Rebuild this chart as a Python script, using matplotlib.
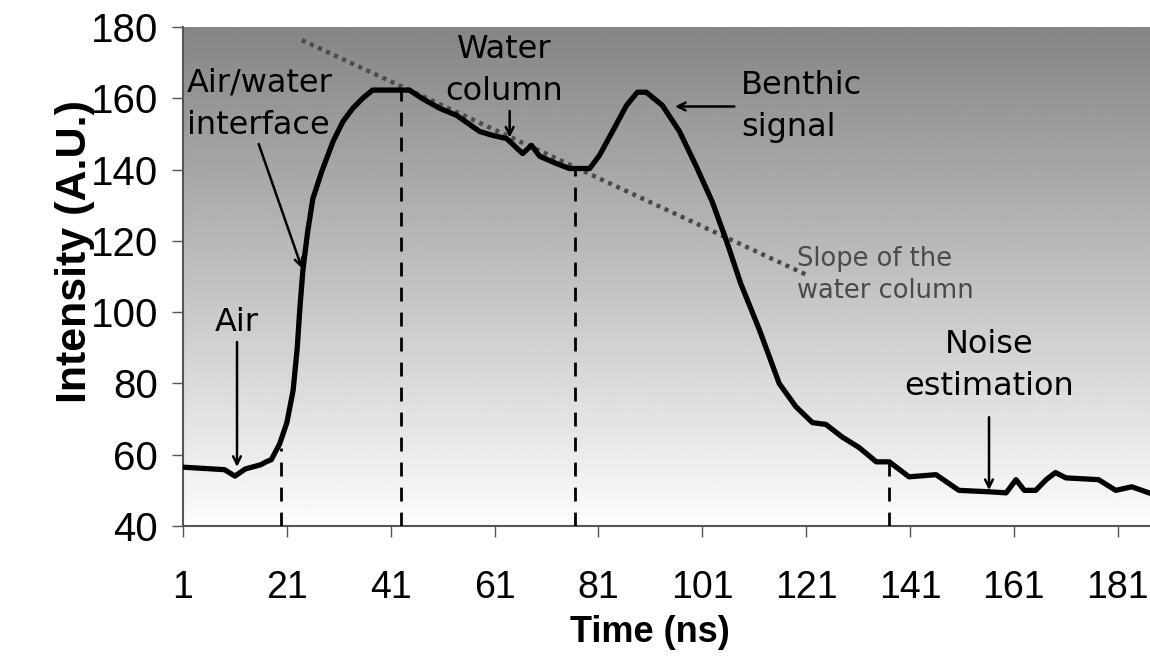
import numpy as np
import matplotlib
matplotlib.use("Agg")
import matplotlib.pyplot as plt

# waveform (time in ns, intensity in A.U.)
time_ns = [1, 9, 11, 13, 16, 17, 18, 19.6, 21, 22.2, 23, 23.5, 24.1, 25, 26, 27.7,
           29.9, 31.8, 33.7, 35.6, 37.5, 44.6, 47, 50.4, 53.7, 58.1, 60.6, 63.3,
           66.4, 68.1, 69.7, 72.9, 75.4, 79.3, 81.2, 83.7, 86.4, 88.5, 90.2, 93.3,
           96.6, 99.8, 102.9, 105.6, 108.4, 112, 115.8, 119, 122.2, 124.8, 127.9,
           131.2, 134.5, 137, 140.8, 146, 150.4, 156.2, 159.5, 161.4, 163, 165.2,
           167.2, 169, 171, 177.3, 180.6, 183.7, 187]
intensity = [56.5, 55.8, 54, 56, 57.2, 58, 58.6, 63, 69, 78, 90, 101, 112,
             122.5, 131.8, 139.4, 147.9, 153.5, 157.2, 160, 162.3, 162.3, 160,
             157.2, 155.2, 150.7, 149.6, 148.7, 144.5, 146.8, 143.7, 141.7, 140.3,
             140.3, 144, 150.7, 158, 161.7, 161.7, 158, 150.7, 141, 131, 120.2,
             108, 95, 80, 73.5, 69, 68.5, 65, 62, 58, 58, 53.8, 54.4, 50,
             49.6, 49.3, 53, 50, 50, 53, 55, 53.5, 53, 50, 51, 49.3]

# vertical dashed markers (position, height)
marker_x = [19.8, 42.9, 76.4, 137]
marker_top = [62, 162.3, 140.3, 58]

# dotted fit of the water column
slope_x = [23.9, 121.6]
slope_y = [176.3, 110.1]

xticks = [1, 21, 41, 61, 81, 101, 121, 141, 161, 181]
yticks = [40, 60, 80, 100, 120, 140, 160, 180]

fig = plt.figure(figsize=(11.5, 6.56), dpi=100)
ax = fig.add_axes([183 / 1150, 1 - 526 / 656, 967 / 1150, 499 / 656])

# grey-to-white gradient behind the plot
grad = np.linspace(0.99, 0.52, 256).reshape(-1, 1)
ax.imshow(grad, extent=[0, 1, 0, 1], transform=ax.transAxes, aspect="auto",
          cmap="gray", vmin=0, vmax=1, zorder=0, origin="lower")

ax.plot(time_ns, intensity, color="black", lw=3.8, solid_joinstyle="round", zorder=4)
ax.plot(slope_x, slope_y, color="#4a4a4a", lw=3.2, ls=(0, (0.9, 1.1)), zorder=3)
for mx, mt in zip(marker_x, marker_top):
    ax.plot([mx, mx], [40, mt], color="black", lw=2, ls=(0, (5, 4)), zorder=3)

ax.set_xlim(1, 187.2)
ax.set_ylim(40, 180)
ax.set_xticks(xticks)
ax.set_yticks(yticks)
ax.set_xticklabels([str(t) for t in xticks], family="Liberation Sans", fontsize=27)
ax.set_yticklabels([str(t) for t in yticks], family="Liberation Sans", fontsize=29)
ax.tick_params(axis="x", length=8, width=1, color="#555555", pad=24)
ax.tick_params(axis="y", length=8, width=1, color="#555555", pad=10)
for s in ["top", "right"]:
    ax.spines[s].set_visible(False)
for s in ["left", "bottom"]:
    ax.spines[s].set_color("#555555")
    ax.spines[s].set_linewidth(1.5)

ax.set_xlabel("Time (ns)", family="Liberation Sans", fontsize=26, fontweight="bold")
ax.xaxis.label.set_va("center")
ax.xaxis.set_label_coords(0.483, -0.214)
ax.set_ylabel("Intensity (A.U.)", family="Liberation Sans", fontsize=31,
              fontweight="bold")
ax.yaxis.label.set_va("center")
ax.yaxis.set_label_coords(-0.112, 0.55)

arrow = dict(arrowstyle="->", color="black", lw=1.8, mutation_scale=14)
txt = dict(fontsize=23, family="DejaVu Sans", color="black", linespacing=1.45)

ax.text(1.8, 158.3, "Air/water\ninterface", ha="left", va="center", zorder=5, **txt)
ax.annotate("", xy=(24.1, 111.5), xytext=(15.4, 147.9), arrowprops=arrow, zorder=5)

ax.text(11.4, 97, "Air", ha="center", va="center", zorder=5, **txt)
ax.annotate("", xy=(11.4, 55.8), xytext=(11.4, 92.4), arrowprops=arrow, zorder=5)

ax.text(62.9, 167.8, "Water\ncolumn", ha="center", va="center", zorder=5, **txt)
ax.annotate("", xy=(63.9, 148.2), xytext=(63.9, 157.2), arrowprops=arrow, zorder=5)

ax.text(108.5, 157.7, "Benthic\nsignal", ha="left", va="center", zorder=5, **txt)
ax.annotate("", xy=(95.2, 157.7), xytext=(107.7, 157.7), arrowprops=arrow, zorder=5)

ax.text(119.3, 110.4, "Slope of the\nwater column", ha="left", va="center",
        fontsize=18.5, family="DejaVu Sans", color="#4a4a4a", linespacing=1.3,
        zorder=5)

ax.text(156.2, 85.1, "Noise\nestimation", ha="center", va="center", zorder=5, **txt)
ax.annotate("", xy=(156.2, 49.3), xytext=(156.2, 71.3), arrowprops=arrow, zorder=5)

fig.savefig("out.png", dpi=100)
